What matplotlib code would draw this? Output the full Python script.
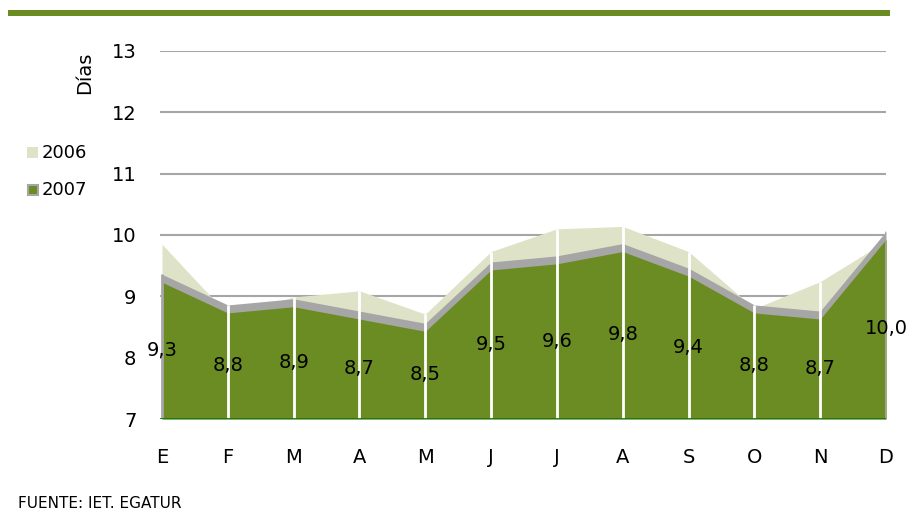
import matplotlib.pyplot as plt
import matplotlib.patches as mpatches

# Datos
meses = ['E', 'F', 'M', 'A', 'M', 'J', 'J', 'A', 'S', 'O', 'N', 'D']
v2006 = [9.85, 8.70, 8.99, 9.09, 8.71, 9.73, 10.10, 10.14, 9.73, 8.80, 9.24, 9.90]
v2007 = [9.3, 8.8, 8.9, 8.7, 8.5, 9.5, 9.6, 9.8, 9.4, 8.8, 8.7, 10.0]

verde = '#6b8c23'
claro = '#dee3c8'
gris = '#a6a6a6'

fig = plt.figure(figsize=(9.06, 5.15), dpi=100)
ax = fig.add_axes([0.1766, 0.1864, 0.8013, 0.7146])

x = list(range(len(meses)))
base = 7

# Rejilla
for y in range(8, 14):
    ax.axhline(y, color=gris, linewidth=1.5, zorder=0)

# Areas
ax.fill_between(x, base, v2006, color=claro, linewidth=0, zorder=1)
ax.fill_between(x, base, [v + 0.06 for v in v2007], color=gris, linewidth=0, zorder=2)
ax.fill_between(x, base, [v - 0.07 for v in v2007], color=verde, linewidth=0, zorder=3)

# Separadores blancos
for i in x[1:-1]:
    top = max(v2006[i], v2007[i] + 0.06)
    ax.vlines(i, base, top, color='white', linewidth=2, zorder=4)
ax.vlines(x[0], base, v2007[0] + 0.06, color=gris, linewidth=2, zorder=4)
ax.vlines(x[-1], base, v2007[-1] + 0.06, color=gris, linewidth=2, zorder=4)

# Linea base
ax.axhline(base - 0.03, color=gris, linewidth=2, zorder=4)
ax.axhline(base, color='#0a7f0a', linewidth=2, zorder=5)

# Etiquetas de valores 2007
for i, v in zip(x, v2007):
    ax.text(i, (base + v) / 2 - 0.03, f'{v:.1f}'.replace('.', ','), ha='center', va='center',
            fontsize=14, color='black', zorder=6, clip_on=False)

ax.set_xlim(-0.03, 11.0)
ax.set_ylim(7, 13)
ax.set_yticks(range(7, 14))
ax.set_yticklabels([str(y) for y in range(7, 14)], fontsize=14)
ax.set_xticks(x)
ax.set_xticklabels(meses, fontsize=14)
ax.tick_params(axis='y', length=0, pad=17)
ax.tick_params(axis='x', length=0, pad=21)
for s in ax.spines.values():
    s.set_visible(False)

fig.text(85 / 906, 1 - 73 / 515, 'Días', rotation=90, ha='center', va='center', fontsize=14)

# Leyenda
fig.patches.append(mpatches.Rectangle((27 / 906, 1 - 158 / 515), 11 / 906, 11 / 515,
                                      transform=fig.transFigure, facecolor=claro, edgecolor='none'))
fig.patches.append(mpatches.Rectangle((28 / 906, 1 - 195 / 515), 10 / 906, 10 / 515,
                                      transform=fig.transFigure, facecolor=verde, edgecolor=gris,
                                      linewidth=1.5))
fig.text(42 / 906, 1 - 153 / 515, '2006', fontsize=13, va='center')
fig.text(42 / 906, 1 - 190 / 515, '2007', fontsize=13, va='center')

# Barra superior
fig.patches.append(mpatches.Rectangle((8 / 906, 1 - 16 / 515), 882 / 906, 6 / 515,
                                      transform=fig.transFigure, facecolor='#6b8c23', edgecolor='none'))

fig.text(18 / 906, 1 - 503 / 515, 'FUENTE: IET. EGATUR', fontsize=11, va='center')

plt.savefig('out.png', dpi=100)
plt.close()
